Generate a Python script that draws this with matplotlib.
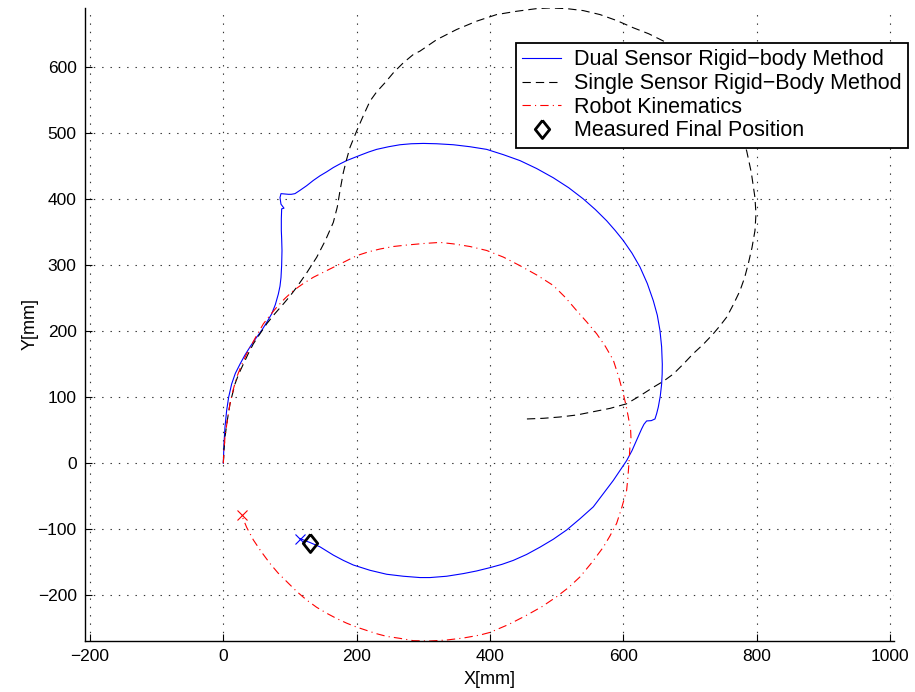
import matplotlib
matplotlib.use("Agg")
import matplotlib.pyplot as plt

plt.rcParams['font.family'] = ['Liberation Sans', 'DejaVu Sans']
plt.rcParams['lines.scale_dashes'] = False

# Dual sensor rigid-body estimate (mm)
dual_x = [0, 0.5, 1, 2.5, 5, 8, 12.5, 18, 25, 32, 40, 48, 57.5, 65, 72.5, 78, 82.5, 85,
          86.5, 87.5, 88, 87.5, 87, 87, 87.5, 91, 86.5, 85, 86.5, 92, 97.5, 102, 107.5,
          115, 125, 135, 145, 155, 165, 175, 185, 195, 205, 218, 230, 248, 265, 282,
          300, 320, 345, 370, 395, 420, 445, 470, 495, 518, 540, 558, 575, 588, 600,
          613, 625, 636, 645, 651, 655, 657.5, 658.5, 658.3, 657.5, 655.5, 652.5, 650,
          647.5, 642, 635, 631, 627.5, 620, 613, 605, 595, 585, 570, 555, 535, 515,
          495, 475, 455, 435, 418, 400, 380, 360, 335, 310, 295, 270, 245, 220, 195,
          180, 165, 145, 130, 115]
dual_y = [0, 15, 30, 55, 80, 100, 120, 136, 150, 163, 176, 188, 201, 213, 226, 240, 256,
          268, 281, 300, 322, 340, 352, 370, 385, 386, 392, 402, 408, 407.5, 407, 407,
          408, 413, 420, 428, 435, 441, 447.5, 453, 458, 462, 466, 471, 475, 479, 482,
          483.5, 484, 483.5, 482, 479, 475, 467, 458, 446, 432, 417, 400, 384, 367, 352,
          337, 318, 297, 272, 246, 224, 201, 176, 150, 135, 120, 102, 85, 75, 67, 64.5,
          64, 59, 52, 35, 19, 4, -11, -26, -46, -66, -84, -101, -115, -127, -138, -147,
          -153, -158, -163, -167, -171, -173, -173, -171, -168, -162, -154, -147, -139,
          -126.5, -120, -114]

# Single sensor rigid-body estimate (mm)
single_x = [0, 1, 2.5, 6, 10, 17.5, 23, 30, 37, 45, 55, 65, 77, 90, 100, 110, 125, 140,
            153, 165, 171, 175, 180, 185, 190, 200, 210, 220, 230, 242.5, 256, 270, 285,
            295, 320, 350, 380, 410, 440, 470, 490, 515, 540, 565, 590, 615, 638, 660,
            682, 700, 720, 740, 758, 772, 785, 792, 797.5, 799, 797.5, 793, 787.5, 782,
            775, 765, 755, 745, 735, 720, 705, 690, 675, 660, 645, 625, 605, 580, 555,
            530, 505, 480, 455]
single_y = [0, 20, 39.7, 65, 90, 120, 135, 150, 165, 180.7, 196, 210.9, 226, 241, 253,
            266.3, 288, 311.6, 337, 364.5, 388, 412.3, 440, 460, 478, 502.8, 526, 548,
            562, 575.8, 592, 606, 618.6, 623.7, 641, 656.4, 669, 679, 684, 688, 689, 688,
            685, 679, 670, 659, 650, 639, 624, 608, 587, 560, 532, 505, 473, 440, 402,
            377, 352, 326, 302, 281, 261, 240, 221, 208, 196, 180, 166, 150, 135, 124,
            115, 102, 90, 83, 78, 73, 70, 68, 67]

# Robot kinematics (mm)
robot_x = [0, 1, 2.5, 6, 10, 15, 20, 27, 35, 47, 60, 70, 80, 92, 105, 120, 135, 150, 165,
           182, 200, 218, 235, 255, 275, 300, 325, 345, 370, 395, 420, 445, 470, 495,
           513, 530, 545, 560, 573, 585, 593, 600, 604, 607.5, 611, 611.5, 610, 609, 607,
           605, 598, 590, 580, 570, 553, 535, 518, 500, 478, 455, 428, 400, 385, 360,
           335, 310, 285, 265, 245, 230, 215, 200, 185, 170, 155, 140, 125, 110, 95, 82,
           70, 57, 45, 35, 27.5]
robot_y = [0, 20, 39.7, 65, 90, 112, 130, 148, 165.6, 188, 210.9, 224, 236, 249, 261.2,
           272, 281.4, 289, 296.5, 305, 314.1, 320, 324.2, 328, 330.2, 332.5, 334.2, 332,
           328, 322, 312, 299, 285, 269, 251, 231, 214, 196, 177, 156, 131, 105, 88, 70,
           50, 38, 27, 8, -20, -41, -66, -91, -110, -127, -150, -172, -188, -202, -217,
           -230, -244, -256, -260, -264.5, -267.5, -269, -268.5, -265, -262, -258, -253,
           -248, -242, -235, -227, -218, -207, -194, -179, -166, -151.7, -134, -116, -97,
           -78.7]

final_pos = (130, -120)

labels = ['Dual Sensor Rigid\u2212body Method',
          'Single Sensor Rigid\u2212Body Method',
          'Robot Kinematics',
          'Measured Final Position']

fig = plt.figure(figsize=(9.15, 6.92), dpi=100)
ax = fig.add_axes([0.0929, 0.0737, 0.8841, 0.9148])

ax.plot(dual_x, dual_y, color='blue', lw=0.8, label=labels[0])
ax.plot(single_x, single_y, color='black', lw=0.8, linestyle=(0, (6, 3.6)), label=labels[1])
ax.plot(robot_x, robot_y, color='red', lw=0.8, linestyle=(0, (6, 3, 0.8, 3)), label=labels[2])

# end points of the estimated paths
ax.plot(dual_x[-1], dual_y[-1], 'x', color='blue', ms=7, mew=0.8)
ax.plot(robot_x[-1], robot_y[-1], 'x', color='red', ms=7, mew=0.8)

diamond = [(0, 1), (0.8, 0), (0, -1), (-0.8, 0), (0, 1)]
ax.plot(final_pos[0], final_pos[1], linestyle='none', marker=diamond, ms=13,
        mfc='none', mec='black', mew=2, label=labels[3])

ax.set_xlim(-207.5, 1006)
ax.set_ylim(-269, 689)
ax.set_xticks([-200, 0, 200, 400, 600, 800, 1000])
ax.set_yticks([-200, -100, 0, 100, 200, 300, 400, 500, 600])
ax.tick_params(direction='in', length=5, width=0.8, labelsize=12.5, pad=6)
ax.grid(True, color='0.2', linestyle=(0, (1, 5)), lw=0.8)

for side in ['top', 'right']:
    ax.spines[side].set_visible(False)
for side in ['left', 'bottom']:
    ax.spines[side].set_linewidth(1)

ax.set_xlabel('X[mm]', fontsize=13, labelpad=5)
ax.set_ylabel('Y[mm]', fontsize=13, labelpad=-1)

leg = ax.legend(loc='upper left', bbox_to_anchor=(516 / 915, 1 - 43 / 692),
                bbox_transform=fig.transFigure, fontsize=15.5, frameon=True,
                fancybox=False, framealpha=1, edgecolor='black', borderaxespad=0,
                borderpad=0.3, labelspacing=0.12, handlelength=1.8, handletextpad=0.6)
leg.get_frame().set_linewidth(1.3)

fig.savefig('out.png', dpi=100)
